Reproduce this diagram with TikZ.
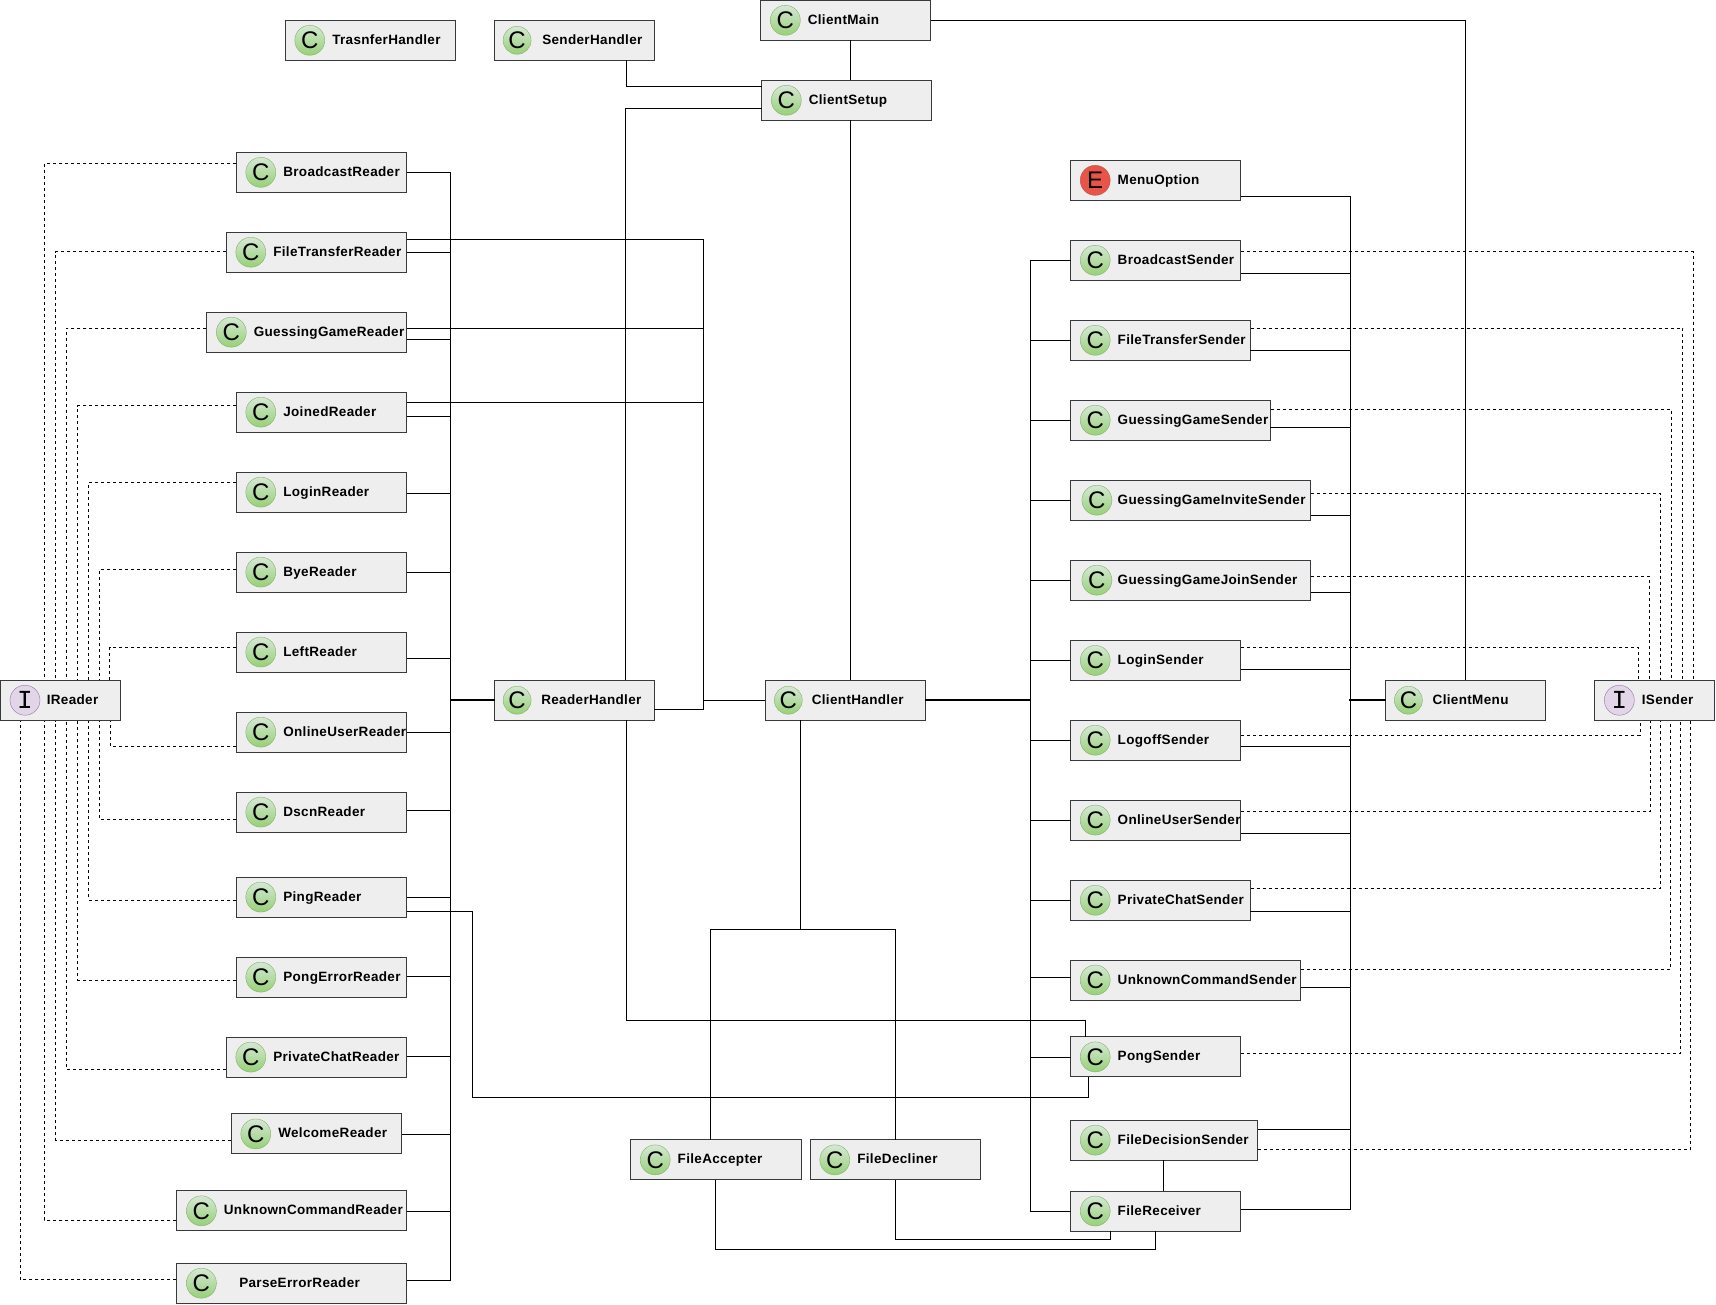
\documentclass[tikz,border=0pt]{standalone}
\usepackage{fontspec}
\setmainfont{Liberation Sans}[LetterSpace=2.5]
\newfontfamily\iconfont{Liberation Sans}
\newfontfamily\ifacefont{Liberation Mono}
\definecolor{boxfill}{HTML}{EEEEEE}
\definecolor{boxline}{HTML}{36393D}
\definecolor{classline}{HTML}{82B366}
\definecolor{classlight}{HTML}{D5E8D4}
\definecolor{classdark}{HTML}{97D077}
\definecolor{enumline}{HTML}{B85450}
\definecolor{enumfill}{HTML}{E85548}
\definecolor{ifaceline}{HTML}{9673A6}
\definecolor{ifacefill}{HTML}{E1D5E7}
\begin{document}
\begin{tikzpicture}[x=1pt,y=-0.9996pt,
  block/.style 2 args={rectangle,draw=boxline,fill=boxfill,line width=1pt,anchor=west,minimum width=#1,minimum height=40,
    inner xsep=0pt,inner ysep=0pt,text width=#1,align=left,text height=11,text depth=3,font=\bfseries\fontsize{13.5}{15}\selectfont,
    execute at begin node={\hyphenpenalty=10000\hspace*{#2pt}}},
  cicon/.style={circle,inner sep=0pt,minimum size=30,font=\iconfont\fontsize{24}{24}\selectfont},
  classicon/.style={cicon,draw=classline,top color=classlight,bottom color=classdark},
  enumicon/.style={cicon,draw=enumline,fill=enumfill},
  ifaceicon/.style={cicon,draw=ifaceline,fill=ifacefill,font=\ifacefont\fontsize{26}{26}\selectfont},
  link/.style={draw=black,line width=1pt,line cap=rect},
  dep/.style={draw=black,line width=1pt,dash pattern=on 3pt off 3pt}]
\useasboundingbox (0,0) rectangle (1716,1305.5);
\coordinate (readerBus) at (450.8,0);
\coordinate (gameBus) at (703.3,0);
\coordinate (senderBus) at (1030.5,0);
\coordinate (menuBus) at (1350.2,0);
\node at (284.8, 40.3) (TrasnferHandler) [block={170}{47}] {TrasnferHandler};
\node at ([xshift=25]TrasnferHandler.west) (iconTrasnferHandler) [classicon] {C};
\node at (493.8, 40.3) (SenderHandler) [block={160}{48}] {SenderHandler};
\node at ([xshift=23.3]SenderHandler.west) (iconSenderHandler) [classicon,minimum size=28] {C};
\node at (760.3, 20.3) (ClientMain) [block={170}{47}] {ClientMain};
\node at ([xshift=25]ClientMain.west) (iconClientMain) [classicon] {C};
\node at (761.3, 100.3) (ClientSetup) [block={170}{47}] {ClientSetup};
\node at ([xshift=25]ClientSetup.west) (iconClientSetup) [classicon] {C};
\node at (235.8, 172.4) (BroadcastReader) [block={170.3}{47}] {BroadcastReader};
\node at ([xshift=25]BroadcastReader.west) (iconBroadcastReader) [classicon] {C};
\node at (225.8, 252.3) (FileTransferReader) [block={180.3}{47}] {FileTransferReader};
\node at ([xshift=25]FileTransferReader.west) (iconFileTransferReader) [classicon] {C};
\node at (206.3, 332.3) (GuessingGameReader) [block={199.8}{47}] {GuessingGameReader};
\node at ([xshift=25]GuessingGameReader.west) (iconGuessingGameReader) [classicon] {C};
\node at (235.8, 412.3) (JoinedReader) [block={170.3}{47}] {JoinedReader};
\node at ([xshift=25]JoinedReader.west) (iconJoinedReader) [classicon] {C};
\node at (235.8, 492.3) (LoginReader) [block={170.3}{47}] {LoginReader};
\node at ([xshift=25]LoginReader.west) (iconLoginReader) [classicon] {C};
\node at (235.8, 572.3) (ByeReader) [block={170.3}{47}] {ByeReader};
\node at ([xshift=25]ByeReader.west) (iconByeReader) [classicon] {C};
\node at (235.8, 652.3) (LeftReader) [block={170.3}{47}] {LeftReader};
\node at ([xshift=25]LeftReader.west) (iconLeftReader) [classicon] {C};
\node at (235.8, 732.4) (OnlineUserReader) [block={170.3}{47}] {OnlineUserReader};
\node at ([xshift=25]OnlineUserReader.west) (iconOnlineUserReader) [classicon] {C};
\node at (235.8, 812.4) (DscnReader) [block={170.3}{47}] {DscnReader};
\node at ([xshift=25]DscnReader.west) (iconDscnReader) [classicon] {C};
\node at (235.8, 897.4) (PingReader) [block={170.3}{47}] {PingReader};
\node at ([xshift=25]PingReader.west) (iconPingReader) [classicon] {C};
\node at (235.8, 977.5) (PongErrorReader) [block={170.3}{47}] {PongErrorReader};
\node at ([xshift=25]PongErrorReader.west) (iconPongErrorReader) [classicon] {C};
\node at (225.8, 1057.5) (PrivateChatReader) [block={180.3}{47}] {PrivateChatReader};
\node at ([xshift=25]PrivateChatReader.west) (iconPrivateChatReader) [classicon] {C};
\node at (230.8, 1134.4) (WelcomeReader) [block={170.3}{47}] {WelcomeReader};
\node at ([xshift=25]WelcomeReader.west) (iconWelcomeReader) [classicon] {C};
\node at (176.4, 1211.3) (UnknownCommandReader) [block={229.7}{47}] {UnknownCommandReader};
\node at ([xshift=25]UnknownCommandReader.west) (iconUnknownCommandReader) [classicon] {C};
\node at (176.4, 1283.7) (ParseErrorReader) [block={229.7}{62.4}] {ParseErrorReader};
\node at ([xshift=25]ParseErrorReader.west) (iconParseErrorReader) [classicon] {C};
\node at (0, 700.5) (IReader) [block={120}{46.3}] {IReader};
\node at ([xshift=25]IReader.west) (iconIReader) [ifaceicon] {I};
\node at (493.8, 700.5) (ReaderHandler) [block={160}{47}] {ReaderHandler};
\node at ([xshift=23.3]ReaderHandler.west) (iconReaderHandler) [classicon,minimum size=28] {C};
\node at (764.8, 700.5) (ClientHandler) [block={160}{46.5}] {ClientHandler};
\node at ([xshift=23.5]ClientHandler.west) (iconClientHandler) [classicon,minimum size=28] {C};
\node at (630.2, 1160.3) (FileAccepter) [block={170.3}{47}] {FileAccepter};
\node at ([xshift=25]FileAccepter.west) (iconFileAccepter) [classicon] {C};
\node at (809.8, 1160.3) (FileDecliner) [block={170.3}{47}] {FileDecliner};
\node at ([xshift=25]FileDecliner.west) (iconFileDecliner) [classicon] {C};
\node at (1070.2, 180.4) (MenuOption) [block={170.2}{47}] {MenuOption};
\node at ([xshift=25]MenuOption.west) (iconMenuOption) [enumicon] {E};
\node at (1070.2, 260.4) (BroadcastSender) [block={170.2}{47}] {BroadcastSender};
\node at ([xshift=25]BroadcastSender.west) (iconBroadcastSender) [classicon] {C};
\node at (1070.2, 340.4) (FileTransferSender) [block={179.5}{47}] {FileTransferSender};
\node at ([xshift=25]FileTransferSender.west) (iconFileTransferSender) [classicon] {C};
\node at (1070.2, 420.4) (GuessingGameSender) [block={199.5}{47}] {GuessingGameSender};
\node at ([xshift=25]GuessingGameSender.west) (iconGuessingGameSender) [classicon] {C};
\node at (1070.2, 500.4) (GuessingGameInviteSender) [block={240.2}{47}] {GuessingGameInviteSender};
\node at ([xshift=26.7]GuessingGameInviteSender.west) (iconGuessingGameInviteSender) [classicon] {C};
\node at (1070.2, 580.4) (GuessingGameJoinSender) [block={240.2}{47}] {GuessingGameJoinSender};
\node at ([xshift=26.7]GuessingGameJoinSender.west) (iconGuessingGameJoinSender) [classicon] {C};
\node at (1070.2, 660.7) (LoginSender) [block={170.2}{47}] {LoginSender};
\node at ([xshift=25]LoginSender.west) (iconLoginSender) [classicon] {C};
\node at (1070.2, 740.5) (LogoffSender) [block={170.2}{47}] {LogoffSender};
\node at ([xshift=25]LogoffSender.west) (iconLogoffSender) [classicon] {C};
\node at (1070.2, 820.4) (OnlineUserSender) [block={170.2}{47}] {OnlineUserSender};
\node at ([xshift=25]OnlineUserSender.west) (iconOnlineUserSender) [classicon] {C};
\node at (1070.2, 900.6) (PrivateChatSender) [block={179.5}{47}] {PrivateChatSender};
\node at ([xshift=25]PrivateChatSender.west) (iconPrivateChatSender) [classicon] {C};
\node at (1070.2, 980.4) (UnknownCommandSender) [block={230.1}{47}] {UnknownCommandSender};
\node at ([xshift=25]UnknownCommandSender.west) (iconUnknownCommandSender) [classicon] {C};
\node at (1070.2, 1057.3) (PongSender) [block={170.2}{47}] {PongSender};
\node at ([xshift=25]PongSender.west) (iconPongSender) [classicon] {C};
\node at (1070.2, 1140.6) (FileDecisionSender) [block={187}{47}] {FileDecisionSender};
\node at ([xshift=25]FileDecisionSender.west) (iconFileDecisionSender) [classicon] {C};
\node at (1070.2, 1211.5) (FileReceiver) [block={170.2}{47}] {FileReceiver};
\node at ([xshift=25]FileReceiver.west) (iconFileReceiver) [classicon] {C};
\node at (1385.2, 700.5) (ClientMenu) [block={160.1}{47}] {ClientMenu};
\node at ([xshift=23.2]ClientMenu.west) (iconClientMenu) [classicon,minimum size=28] {C};
\node at (1594.3, 700.5) (ISender) [block={119.5}{47}] {ISender};
\node at ([xshift=25]ISender.west) (iconISender) [ifaceicon] {I};
\draw [link] (ClientMain.south -| 850.3,0) -- (ClientSetup.north -| 850.3,0);
\draw [link] (ClientSetup.south -| 850.3,0) -- (ClientHandler.north -| 850.3,0);
\draw [link] (ClientMain.east) -| (ClientMenu.north -| 1465.3,0);
\draw [link] (SenderHandler.south -| 626.3,0) |- (ClientSetup.west |- 0,86.3);
\draw [link] (ClientSetup.west |- 0,108.3) -| (ReaderHandler.north -| 625.3,0);
\draw [link] (ReaderHandler.south -| 626.8,0) |- (1085.3,1021.3) -- (PongSender.north -| 1085.3,0);
\draw [link] (PingReader.east |- 0,911.6) -- (472.6,911.6) |- (1088.7,1098.3) -- (PongSender.south -| 1088.7,0);
\draw [link] (readerBus |- 0,172.3) -- (readerBus |- 0,1281.2);
\draw [link] (BroadcastReader.east) -- (readerBus |- 0,172.4);
\draw [link] (FileTransferReader.east |- 0,252.3) -- (readerBus |- 0,252.3);
\draw [link] (GuessingGameReader.east |- 0,339.3) -- (readerBus |- 0,339.3);
\draw [link] (JoinedReader.east |- 0,416.3) -- (readerBus |- 0,416.3);
\draw [link] (LoginReader.east |- 0,493.6) -- (readerBus |- 0,493.6);
\draw [link] (ByeReader.east |- 0,572.4) -- (readerBus |- 0,572.4);
\draw [link] (LeftReader.east |- 0,658.5) -- (readerBus |- 0,658.5);
\draw [link] (OnlineUserReader.east |- 0,732.6) -- (readerBus |- 0,732.6);
\draw [link] (DscnReader.east |- 0,810.4) -- (readerBus |- 0,810.4);
\draw [link] (PingReader.east |- 0,897.7) -- (readerBus |- 0,897.7);
\draw [link] (PongErrorReader.east |- 0,977.2) -- (readerBus |- 0,977.2);
\draw [link] (PrivateChatReader.east |- 0,1057.3) -- (readerBus |- 0,1057.3);
\draw [link] (WelcomeReader.east |- 0,1134.6) -- (readerBus |- 0,1134.6);
\draw [link] (UnknownCommandReader.east |- 0,1211.5) -- (readerBus |- 0,1211.5);
\draw [link] (ParseErrorReader.east |- 0,1281.2) -- (readerBus |- 0,1281.2);
\draw [link,line width=1.6pt] (readerBus |- ReaderHandler.west) -- (ReaderHandler.west);
\draw [link] (gameBus |- 0,240) -- (gameBus |- 0,710);
\draw [link] (FileTransferReader.east |- 0,240) -- (gameBus |- 0,240);
\draw [link] (GuessingGameReader.east |- 0,328.3) -- (gameBus |- 0,328.3);
\draw [link] (JoinedReader.east |- 0,402.3) -- (gameBus |- 0,402.3);
\draw [link] (ReaderHandler.east |- 0,710) -- (gameBus |- 0,710);
\draw [link,line width=1.3pt] (gameBus |- ClientHandler.west) -- (ClientHandler.west);
\draw [link] (ClientHandler.south -| 800.5,0) -- (800.5,930.3);
\draw [link] (FileAccepter.north -| 710.2,0) |- (895.4,930.3) -- (FileDecliner.north -| 895.4,0);
\draw [link] (FileAccepter.south -| 715.6,0) |- (1155.3,1250.3) -- (FileReceiver.south -| 1155.3,0);
\draw [link] (FileDecliner.south) |- (1110.5,1240.3) -- (FileReceiver.south -| 1110.5,0);
\draw [link] (FileDecisionSender.south -| 1163.4,0) -- (FileReceiver.north -| 1163.4,0);
\draw [link] (senderBus |- 0,260.4) -- (senderBus |- 0,1211.5);
\draw [link,line width=1.6pt] (ClientHandler.east) -- (senderBus |- ClientHandler.east);
\draw [link] (senderBus |- BroadcastSender.west) -- (BroadcastSender.west);
\draw [link] (senderBus |- FileTransferSender.west) -- (FileTransferSender.west);
\draw [link] (senderBus |- GuessingGameSender.west) -- (GuessingGameSender.west);
\draw [link] (senderBus |- GuessingGameInviteSender.west) -- (GuessingGameInviteSender.west);
\draw [link] (senderBus |- GuessingGameJoinSender.west) -- (GuessingGameJoinSender.west);
\draw [link] (senderBus |- LoginSender.west) -- (LoginSender.west);
\draw [link] (senderBus |- LogoffSender.west) -- (LogoffSender.west);
\draw [link] (senderBus |- OnlineUserSender.west) -- (OnlineUserSender.west);
\draw [link] (senderBus |- PrivateChatSender.west) -- (PrivateChatSender.west);
\draw [link] (senderBus |- 0,978.2) -- (UnknownCommandSender.west |- 0,978.2);
\draw [link] (senderBus |- 0,1058.4) -- (PongSender.west |- 0,1058.4);
\draw [link] (senderBus |- FileReceiver.west) -- (FileReceiver.west);
\draw [link] (menuBus |- 0,196.3) -- (menuBus |- 0,1210.4);
\draw [link] (MenuOption.east |- 0,196.3) -- (menuBus |- 0,196.3);
\draw [link] (BroadcastSender.east |- 0,273.2) -- (menuBus |- 0,273.2);
\draw [link] (FileTransferSender.east |- 0,350.2) -- (menuBus |- 0,350.2);
\draw [link] (GuessingGameSender.east |- 0,427.5) -- (menuBus |- 0,427.5);
\draw [link] (GuessingGameInviteSender.east |- 0,515.5) -- (menuBus |- 0,515.5);
\draw [link] (GuessingGameJoinSender.east |- 0,592.4) -- (menuBus |- 0,592.4);
\draw [link] (LoginSender.east |- 0,669.3) -- (menuBus |- 0,669.3);
\draw [link] (LogoffSender.east |- 0,746.3) -- (menuBus |- 0,746.3);
\draw [link] (OnlineUserSender.east |- 0,834.3) -- (menuBus |- 0,834.3);
\draw [link] (PrivateChatSender.east |- 0,911.4) -- (menuBus |- 0,911.4);
\draw [link] (UnknownCommandSender.east |- 0,988.2) -- (menuBus |- 0,988.2);
\draw [link] (FileDecisionSender.east |- 0,1130.2) -- (menuBus |- 0,1130.2);
\draw [link] (FileReceiver.east |- 0,1210.4) -- (menuBus |- 0,1210.4);
\draw [link,line width=1.6pt] (menuBus |- ClientMenu.west) -- (ClientMenu.west);
\draw [dep] (BroadcastReader.west |- 0,163.5) -| (IReader.north -| 44.4,0);
\draw [dep] (FileTransferReader.west |- 0,251.7) -| (IReader.north -| 55.5,0);
\draw [dep] (GuessingGameReader.west |- 0,328.3) -| (IReader.north -| 66.6,0);
\draw [dep] (JoinedReader.west |- 0,405.7) -| (IReader.north -| 77.7,0);
\draw [dep] (LoginReader.west |- 0,482.6) -| (IReader.north -| 88.8,0);
\draw [dep] (ByeReader.west |- 0,570) -| (IReader.north -| 99.5,0);
\draw [dep] (LeftReader.west |- 0,647.7) -| (IReader.north -| 109.5,0);
\draw [dep] (OnlineUserReader.west |- 0,746.6) -| (IReader.south -| 110.6,0);
\draw [dep] (DscnReader.west |- 0,820.3) -| (IReader.south -| 99.5,0);
\draw [dep] (PingReader.west |- 0,900.4) -| (IReader.south -| 88.8,0);
\draw [dep] (PongErrorReader.west |- 0,980.4) -| (IReader.south -| 77.7,0);
\draw [dep] (PrivateChatReader.west |- 0,1070.3) -| (IReader.south -| 66.6,0);
\draw [dep] (WelcomeReader.west |- 0,1140.5) -| (IReader.south -| 55.5,0);
\draw [dep] (UnknownCommandReader.west |- 0,1220.5) -| (IReader.south -| 44.4,0);
\draw [dep] (ParseErrorReader.west |- 0,1280.3) -| (IReader.south -| 20.3,0);
\draw [dep] (BroadcastSender.east |- 0,251.4) -| (ISender.north -| 1693.2,0);
\draw [dep] (FileTransferSender.east |- 0,328.3) -| (ISender.north -| 1682.7,0);
\draw [dep] (GuessingGameSender.east |- 0,409.5) -| (ISender.north -| 1671.3,0);
\draw [dep] (GuessingGameInviteSender.east |- 0,493.3) -| (ISender.north -| 1660.8,0);
\draw [dep] (GuessingGameJoinSender.east |- 0,576.3) -| (ISender.north -| 1649.4,0);
\draw [dep] (LoginSender.east |- 0,647.5) -| (ISender.north -| 1638.5,0);
\draw [dep] (LogoffSender.east |- 0,735.5) -| (ISender.south -| 1640.2,0);
\draw [dep] (OnlineUserSender.east |- 0,812.3) -| (ISender.south -| 1650.3,0);
\draw [dep] (PrivateChatSender.east |- 0,889) -| (ISender.south -| 1660.4,0);
\draw [dep] (UnknownCommandSender.east |- 0,970) -| (ISender.south -| 1670.4,0);
\draw [dep] (PongSender.east |- 0,1054.2) -| (ISender.south -| 1680.5,0);
\draw [dep] (FileDecisionSender.east |- 0,1150.2) -| (ISender.south -| 1690.6,0);
\end{tikzpicture}
\end{document}
